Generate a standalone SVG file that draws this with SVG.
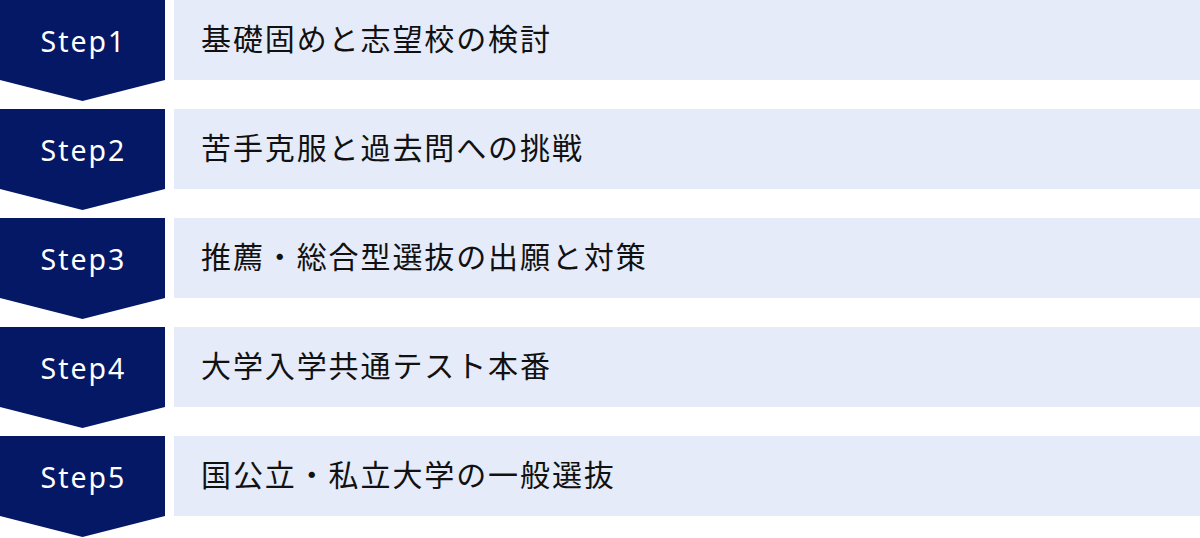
<svg xmlns="http://www.w3.org/2000/svg" width="1200" height="538" viewBox="0 0 1200 538">
<style>
.chev{fill:#041866}
.box{fill:#e5ebf9}
.step{font-family:"Noto Sans","DejaVu Sans",sans-serif;font-size:28.5px;font-weight:400;fill:#ffffff;text-anchor:middle;letter-spacing:2px}
.lbl{font-family:"Noto Sans CJK JP","Noto Sans",sans-serif;font-size:30px;fill:#111111;letter-spacing:1.9px}
</style>
<rect width="1200" height="538" fill="#ffffff"/>
<defs>
<path id="chevron" d="M0 0H165V80L82.5 101L0 80Z"/>
</defs>
<g id="connectors"></g>
<g id="step1" transform="translate(0,0)">
<use href="#chevron" class="chev"/>
<rect class="box" x="174" y="0" width="1026" height="80"/>
<text class="step" x="83.5" y="52">Step1</text>
<text class="lbl" x="201" y="50">基礎固めと志望校の検討</text>
</g>
<g id="step2" transform="translate(0,109)">
<use href="#chevron" class="chev"/>
<rect class="box" x="174" y="0" width="1026" height="80"/>
<text class="step" x="83.5" y="52">Step2</text>
<text class="lbl" x="201" y="50">苦手克服と過去問への挑戦</text>
</g>
<g id="step3" transform="translate(0,218)">
<use href="#chevron" class="chev"/>
<rect class="box" x="174" y="0" width="1026" height="80"/>
<text class="step" x="83.5" y="52">Step3</text>
<text class="lbl" x="201" y="50">推薦・総合型選抜の出願と対策</text>
</g>
<g id="step4" transform="translate(0,327)">
<use href="#chevron" class="chev"/>
<rect class="box" x="174" y="0" width="1026" height="80"/>
<text class="step" x="83.5" y="52">Step4</text>
<text class="lbl" x="201" y="50">大学入学共通テスト本番</text>
</g>
<g id="step5" transform="translate(0,436)">
<use href="#chevron" class="chev"/>
<rect class="box" x="174" y="0" width="1026" height="80"/>
<text class="step" x="83.5" y="52">Step5</text>
<text class="lbl" x="201" y="50">国公立・私立大学の一般選抜</text>
</g>
</svg>
